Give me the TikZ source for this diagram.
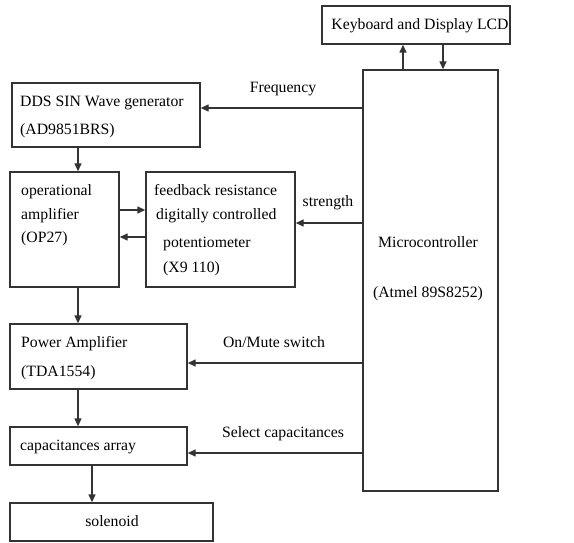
\documentclass[tikz,border=0pt]{standalone}
\usepackage{fontspec}
\setmainfont{Liberation Serif}
\usetikzlibrary{arrows.meta}
\begin{document}
\begin{tikzpicture}[x=1bp,y=-1bp,
  box/.style={draw=black!80,line width=1.4bp,inner sep=0pt,fill=white},
  arr/.style={draw=black!80,line width=1.4bp,-{Triangle[length=8bp,width=7bp]}},
  txt/.style={anchor=base west,inner sep=0pt,font=\fontsize{15.8}{18}\selectfont},
  ctxt/.style={anchor=base,inner sep=0pt,font=\fontsize{15.8}{18}\selectfont}]
\useasboundingbox (0,0) rectangle (574,543);
% boxes
\node[box,minimum width=188bp,minimum height=38bp] (kbd) at (416,25) {};
\node[box,minimum width=135bp,minimum height=421bp] (micro) at (430.5,280.5) {};
\node[box,minimum width=188bp,minimum height=64bp] (dds) at (106,115) {};
\node[box,minimum width=109bp,minimum height=115bp] (opamp) at (64.5,229.5) {};
\node[box,minimum width=149bp,minimum height=115bp] (fb) at (220.5,229.5) {};
\node[box,minimum width=177bp,minimum height=65bp] (pa) at (98.5,356.5) {};
\node[box,minimum width=177bp,minimum height=38bp] (cap) at (98.5,446) {};
\node[box,minimum width=203bp,minimum height=38bp] (sol) at (111.5,522) {};
% texts
\node[ctxt] (tk) at (420,30) {Keyboard and Display LCD};
\node[txt] (t1) at (20,107) {DDS SIN Wave generator};
\node[txt] (t2) at (20,135) {(AD9851BRS)};
\node[txt] (t3) at (21,196) {operational};
\node[txt] (t4) at (21,220) {amplifier};
\node[txt] (t5) at (21,242) {(OP27)};
\node[txt] (t6) at (154,196) {feedback resistance};
\node[txt] (t7) at (156,220) {digitally controlled};
\node[txt] (t8) at (163,247) {potentiometer};
\node[txt] (t9) at (163,272) {(X9 110)};
\node[ctxt] (t10) at (428,247) {Microcontroller};
\node[ctxt] (t11) at (428,297) {(Atmel 89S8252)};
\node[txt] (t12) at (21,347) {Power Amplifier};
\node[txt] (t13) at (21,376) {(TDA1554)};
\node[txt] (t14) at (20,450) {capacitances array};
\node[ctxt] (t15) at (112,526) {solenoid};
\node[ctxt] (l1) at (283,93) {Frequency};
\node[ctxt] (l2) at (328,207) {strength};
\node[ctxt] (l3) at (274,347) {On/Mute switch};
\node[ctxt] (l4) at (283,437) {Select capacitances};
% connectors
\coordinate (u1) at ([xshift=-27.5bp]micro.north);
\coordinate (u2) at ([xshift=12.5bp]micro.north);
\draw[arr] (u1) -- (u1 |- kbd.south);
\draw[arr] (u2 |- kbd.south) -- (u2);
\coordinate (f) at ([yshift=7bp]dds.east);
\draw[arr] (f -| micro.west) -- (f);
\coordinate (d1) at ([xshift=13.5bp]opamp.north);
\draw[arr] (d1 |- dds.south) -- (d1);
\coordinate (o1) at ([yshift=19.5bp]opamp.east);
\draw[arr] (o1) -- (o1 -| fb.west);
\coordinate (o2) at ([yshift=-7.5bp]opamp.east);
\draw[arr] (o2 -| fb.west) -- (o2);
\coordinate (s1) at ([yshift=6.5bp]fb.east);
\draw[arr] (s1 -| micro.west) -- (s1);
\coordinate (d2) at ([xshift=13.5bp]opamp.south);
\draw[arr] (d2) -- (d2 |- pa.north);
\coordinate (m1) at ([yshift=-6.5bp]pa.east);
\draw[arr] (m1 -| micro.west) -- (m1);
\coordinate (d3) at (d2 |- pa.south);
\draw[arr] (d3) -- (d3 |- cap.north);
\coordinate (c1) at ([yshift=-7bp]cap.east);
\draw[arr] (c1 -| micro.west) -- (c1);
\coordinate (d4) at ([xshift=-19.5bp]sol.north);
\draw[arr] (d4 |- cap.south) -- (d4);
\end{tikzpicture}
\end{document}
